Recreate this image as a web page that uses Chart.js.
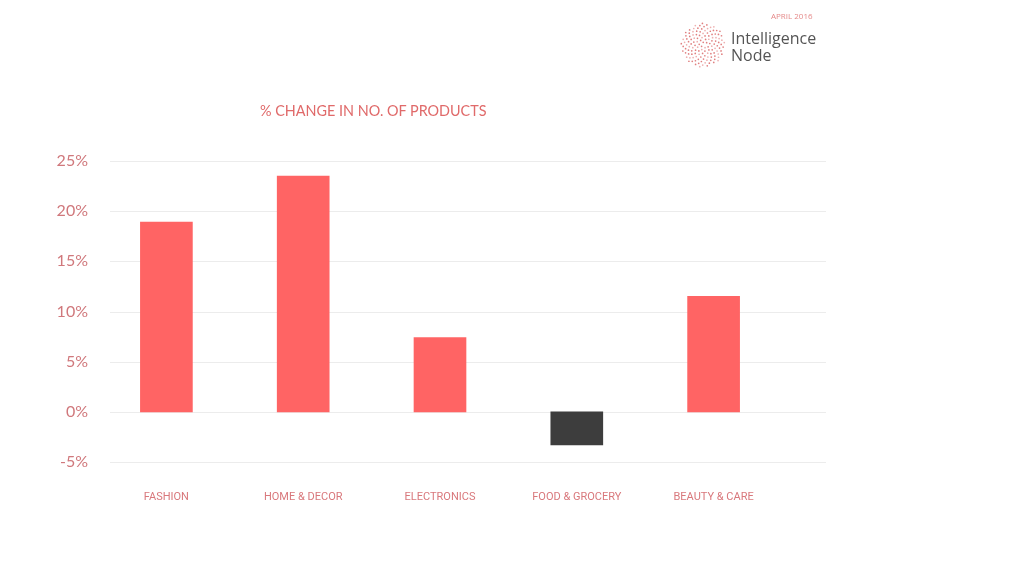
<!DOCTYPE html>
<html>
<head>
<meta charset="utf-8">
<script src="https://cdn.jsdelivr.net/npm/chart.js@4.4.1/dist/chart.umd.min.js"></script>
<style>
html,body{margin:0;padding:0;background:#fff;}
#wrap{position:relative;width:1024px;height:576px;}
#c{position:absolute;left:0;top:0;}
.t{position:absolute;white-space:nowrap;}
#title{left:260px;top:102px;font-family:'Lato','Open Sans',sans-serif;font-size:14.4px;color:#e06a6a;}
#date{left:771px;top:10px;font-family:'Open Sans',sans-serif;font-size:8px;color:#e58a8a;}
#brand{left:731px;top:30px;font-family:'Open Sans',sans-serif;font-size:16px;line-height:17px;color:#555;}
</style>
</head>
<body>
<div id="wrap">
<canvas id="c" width="1024" height="576"></canvas>
<div class="t" id="title">% CHANGE IN NO. OF PRODUCTS</div>
<div class="t" id="date">APRIL 2016</div>
<div class="t" id="brand">Intelligence<br>Node</div>
</div>
<script>
const categories = ['FASHION', 'HOME & DECOR', 'ELECTRONICS', 'FOOD & GROCERY', 'BEAUTY & CARE'];
const changePct = [18.9, 23.5, 7.4, -3.3, 11.5];
const yMin = -5, yMax = 25, yStep = 5;

const barColors = changePct.map(v => v < 0 ? '#3d3d3d' : '#ff6464');

const gridPlugin = {
  id: 'fullGrid',
  beforeDatasetsDraw(chart) {
    const ctx = chart.ctx, y = chart.scales.y;
    ctx.save();
    ctx.strokeStyle = '#ececec';
    ctx.lineWidth = 1;
    y.ticks.forEach((t, i) => {
      const py = Math.round(y.getPixelForTick(i)) + 0.5;
      ctx.beginPath();
      ctx.moveTo(110, py);
      ctx.lineTo(826, py);
      ctx.stroke();
    });
    ctx.restore();
  }
};

const logoPlugin = {
  id: 'logo',
  afterDraw(chart) {
    const ctx = chart.ctx;
    const cx = 703, cy = 45, R = 22;
    ctx.save();
    const n = 130, ga = Math.PI * (3 - Math.sqrt(5));
    for (let i = 1; i < n; i++) {
      const r = R * Math.sqrt(i / n);
      const a = i * ga;
      ctx.fillStyle = i % 3 === 0 ? '#eeb0b0' : '#e08080';
      ctx.beginPath();
      ctx.arc(cx + r * Math.cos(a), cy + r * Math.sin(a), 0.85, 0, Math.PI * 2);
      ctx.fill();
    }
    ctx.restore();
  }
};

new Chart(document.getElementById('c'), {
  type: 'bar',
  data: {
    labels: categories,
    datasets: [{
      data: changePct,
      backgroundColor: barColors,
      borderWidth: 0,
      barThickness: 52
    }]
  },
  options: {
    responsive: false,
    animation: false,
    layout: { padding: { top: 161, right: 242, left: 0, bottom: 0 } },
    plugins: { legend: { display: false }, tooltip: { enabled: false }, title: { display: false } },
    scales: {
      x: {
        grid: { display: false, drawTicks: false },
        border: { display: false },
        ticks: {
          padding: 29,
          color: '#d9787c',
          maxRotation: 0,
          font: { family: "'Liberation Sans Narrow','Roboto','Open Sans',sans-serif", size: 11 }
        },
        afterFit(s) { s.height = 114; }
      },
      y: {
        min: yMin, max: yMax,
        grid: { display: false, drawTicks: false },
        border: { display: false },
        ticks: {
          stepSize: yStep,
          padding: 10,
          color: '#d0787c',
          font: { family: "'Lato','Open Sans',sans-serif", size: 16 },
          callback: v => v + '%'
        },
        afterFit(s) { s.width = 98; }
      }
    }
  },
  plugins: [gridPlugin, logoPlugin]
});
</script>
</body>
</html>
